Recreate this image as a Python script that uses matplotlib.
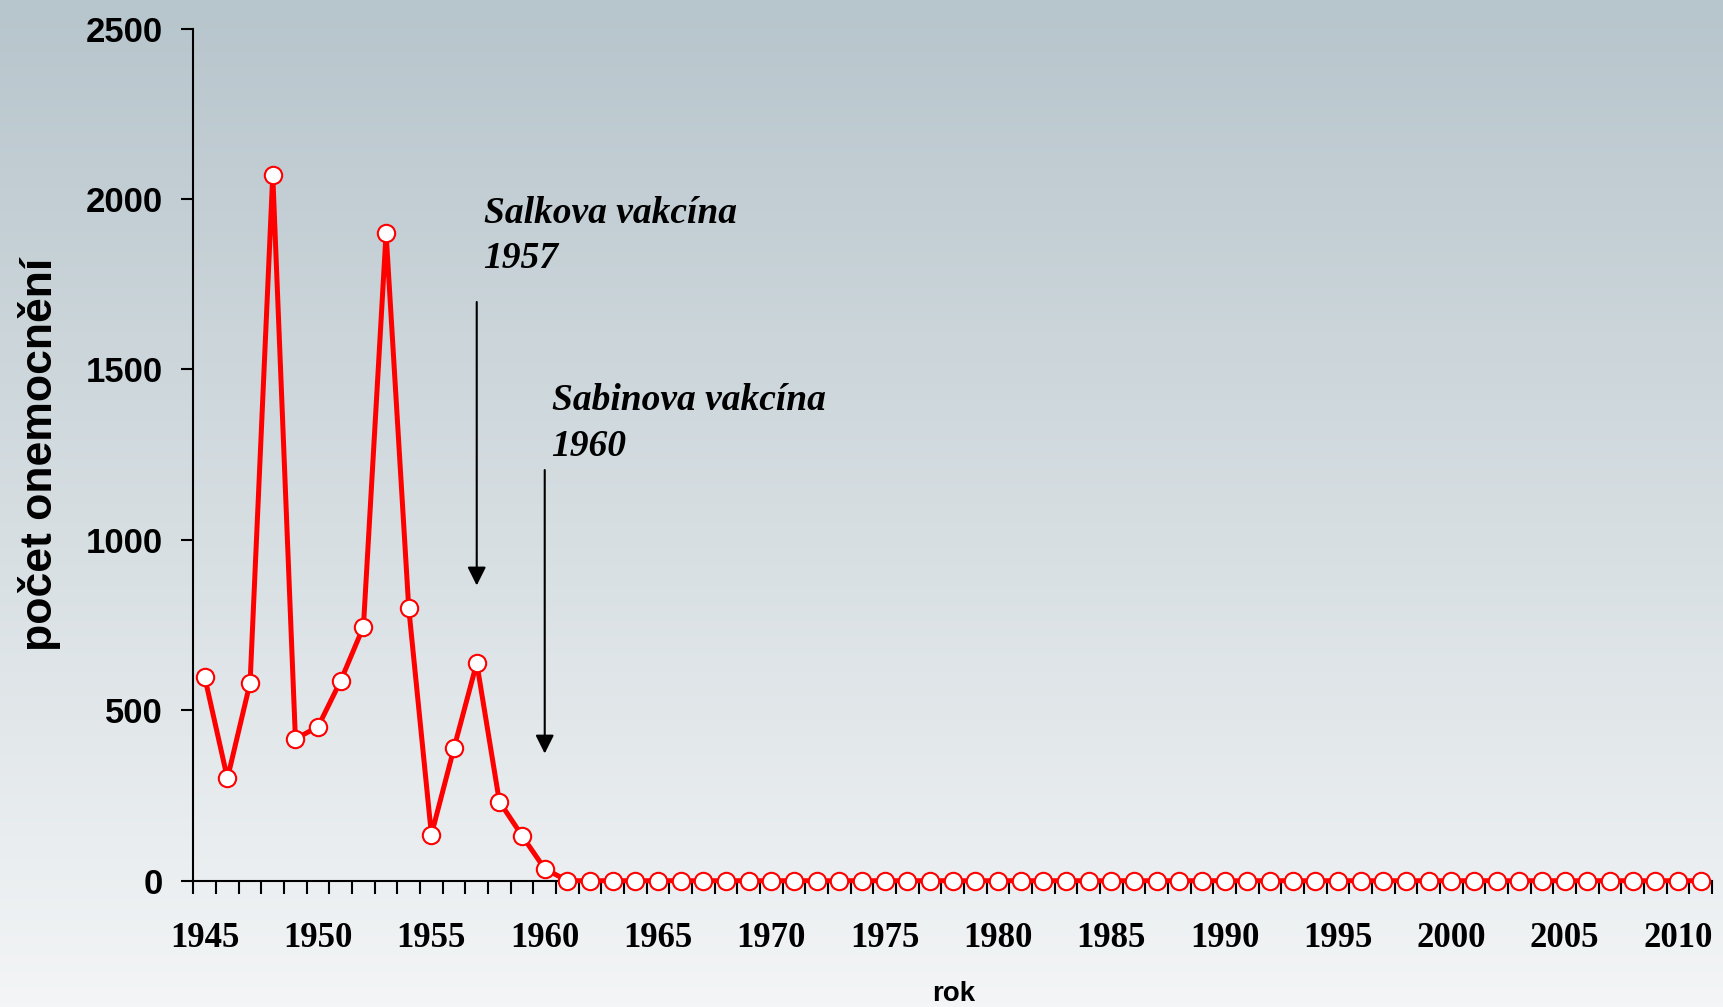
import numpy as np
import matplotlib.pyplot as plt

# Data
years = np.arange(1945, 2012)
cases_early = [597, 300, 581, 2071, 416, 452, 587, 745, 1900, 800,
               135, 390, 639, 232, 132, 35]
cases = np.array(cases_early + [0] * (len(years) - len(cases_early)))
tick_years = np.arange(1945, 2011, 5)

fig = plt.figure(figsize=(17.24, 10.07), dpi=100)

# Background gradient
bg = fig.add_axes([0, 0, 1, 1], zorder=-10)
top_c = np.array([183, 197, 204]) / 255
bot_c = np.array([243, 245, 246]) / 255
t = np.linspace(0, 1, 256)[:, None]
grad = top_c * (1 - t) + bot_c * t
bg.imshow(np.repeat(grad[:, None, :], 2, axis=1), aspect='auto', extent=[0, 1, 0, 1])
bg.axis('off')

ax = fig.add_axes([0.1122, 0.1254, 0.8808, 0.8462])
ax.patch.set_alpha(0)

ax.plot(years, cases, color='#ff0000', lw=3.6, marker='o', ms=12.5,
        mfc='white', mec='#ff0000', mew=1.5, clip_on=False, zorder=5)

ax.set_xlim(1944.5, 2011.5)
ax.set_ylim(0, 2500)
ax.set_yticks([0, 500, 1000, 1500, 2000, 2500])
ax.set_xticks(tick_years)
ax.set_xticks(np.arange(1944.5, 2012, 1), minor=True)
ax.tick_params(axis='x', which='major', length=0, pad=30)
ax.tick_params(axis='x', which='minor', length=9, width=1.5, direction='out')
ax.tick_params(axis='y', length=9, width=1.5, pad=13)

for lab in ax.get_xticklabels():
    lab.set_fontfamily('Liberation Serif')
    lab.set_fontweight('bold')
    lab.set_fontsize(25)
for lab in ax.get_yticklabels():
    lab.set_fontfamily('Liberation Sans')
    lab.set_fontweight('bold')
    lab.set_fontsize(25)

for s in ['top', 'right']:
    ax.spines[s].set_visible(False)
for s in ['left', 'bottom']:
    ax.spines[s].set_linewidth(1.5)

ax.set_ylabel('počet onemocnění', fontfamily='Liberation Sans', fontweight='bold',
              fontsize=32, labelpad=18)
fig.text(0.553, 0.0, 'rok', fontfamily='Liberation Sans', fontweight='bold',
         fontsize=20, ha='center', va='bottom')

# Annotations
ax.text(1957.3, 2010, 'Salkova vakcína\n1957', fontfamily='Liberation Serif',
        fontweight='bold', style='italic', fontsize=27, va='top', ha='left',
        linespacing=1.4)
ax.text(1960.3, 1460, 'Sabinova vakcína\n1960', fontfamily='Liberation Serif',
        fontweight='bold', style='italic', fontsize=27, va='top', ha='left',
        linespacing=1.4)
ax.annotate('', xy=(1957, 858), xytext=(1957, 1706),
            arrowprops=dict(arrowstyle='-|>', lw=1.5, color='black', mutation_scale=28))
ax.annotate('', xy=(1960, 365), xytext=(1960, 1213),
            arrowprops=dict(arrowstyle='-|>', lw=1.5, color='black', mutation_scale=28))

fig.savefig('out.png', dpi=100)
